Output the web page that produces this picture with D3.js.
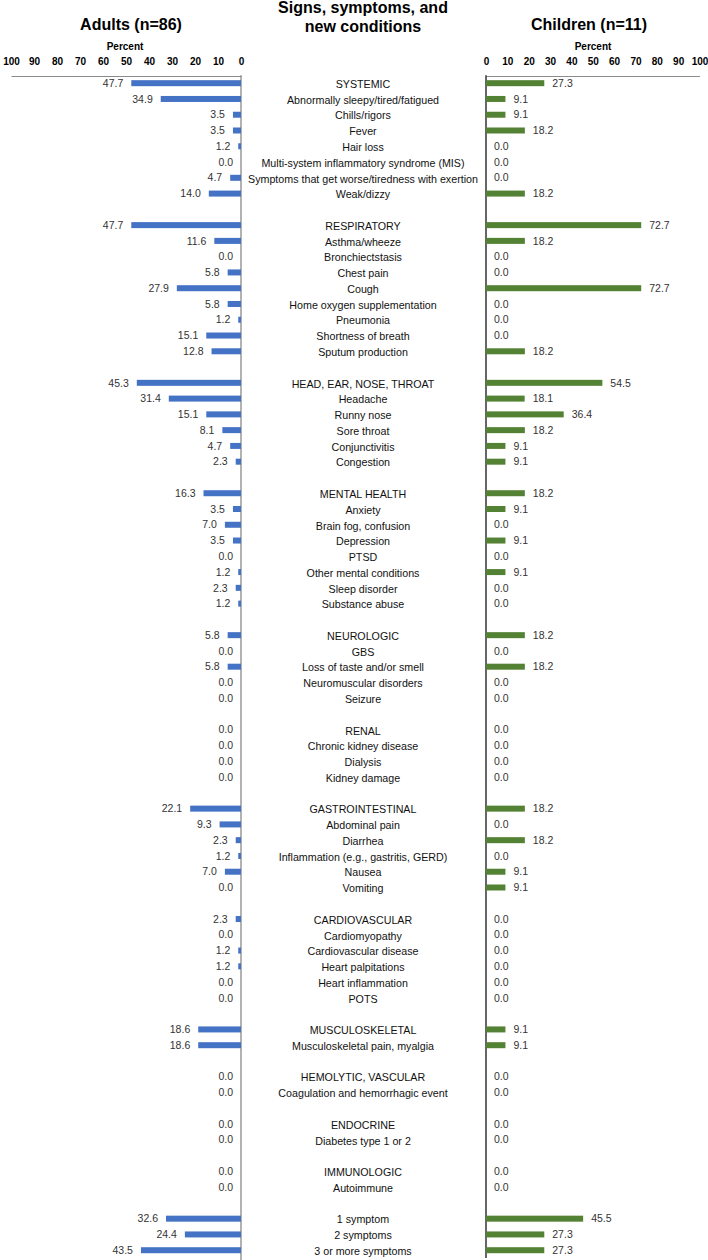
<!DOCTYPE html>
<html>
<head>
<meta charset="utf-8">
<script src="https://cdn.jsdelivr.net/npm/d3@7"></script>
<style>
  body { margin: 0; background: #fff; }
  text { font-family: "Liberation Sans", Arial, sans-serif; }
</style>
</head>
<body>
<div id="chart"></div>
<script>
// rows, "" = spacer row between groups
var labels = [
  "SYSTEMIC", "Abnormally sleepy/tired/fatigued", "Chills/rigors", "Fever", "Hair loss",
  "Multi-system inflammatory syndrome (MIS)", "Symptoms that get worse/tiredness with exertion", "Weak/dizzy",
  "",
  "RESPIRATORY", "Asthma/wheeze", "Bronchiectstasis", "Chest pain", "Cough",
  "Home oxygen supplementation", "Pneumonia", "Shortness of breath", "Sputum production",
  "",
  "HEAD, EAR, NOSE, THROAT", "Headache", "Runny nose", "Sore throat", "Conjunctivitis", "Congestion",
  "",
  "MENTAL HEALTH", "Anxiety", "Brain fog, confusion", "Depression", "PTSD",
  "Other mental conditions", "Sleep disorder", "Substance abuse",
  "",
  "NEUROLOGIC", "GBS", "Loss of taste and/or smell", "Neuromuscular disorders", "Seizure",
  "",
  "RENAL", "Chronic kidney disease", "Dialysis", "Kidney damage",
  "",
  "GASTROINTESTINAL", "Abdominal pain", "Diarrhea", "Inflammation (e.g., gastritis, GERD)", "Nausea", "Vomiting",
  "",
  "CARDIOVASCULAR", "Cardiomyopathy", "Cardiovascular disease", "Heart palpitations", "Heart inflammation", "POTS",
  "",
  "MUSCULOSKELETAL", "Musculoskeletal pain, myalgia",
  "",
  "HEMOLYTIC, VASCULAR", "Coagulation and hemorrhagic event",
  "",
  "ENDOCRINE", "Diabetes type 1 or 2",
  "",
  "IMMUNOLOGIC", "Autoimmune",
  "",
  "1 symptom", "2 symptoms", "3 or more symptoms"
];

var adults = [
  47.7, 34.9, 3.5, 3.5, 1.2, 0.0, 4.7, 14.0,
  null,
  47.7, 11.6, 0.0, 5.8, 27.9, 5.8, 1.2, 15.1, 12.8,
  null,
  45.3, 31.4, 15.1, 8.1, 4.7, 2.3,
  null,
  16.3, 3.5, 7.0, 3.5, 0.0, 1.2, 2.3, 1.2,
  null,
  5.8, 0.0, 5.8, 0.0, 0.0,
  null,
  0.0, 0.0, 0.0, 0.0,
  null,
  22.1, 9.3, 2.3, 1.2, 7.0, 0.0,
  null,
  2.3, 0.0, 1.2, 1.2, 0.0, 0.0,
  null,
  18.6, 18.6,
  null,
  0.0, 0.0,
  null,
  0.0, 0.0,
  null,
  0.0, 0.0,
  null,
  32.6, 24.4, 43.5
];

var children = [
  27.3, 9.1, 9.1, 18.2, 0.0, 0.0, 0.0, 18.2,
  null,
  72.7, 18.2, 0.0, 0.0, 72.7, 0.0, 0.0, 0.0, 18.2,
  null,
  54.5, 18.1, 36.4, 18.2, 9.1, 9.1,
  null,
  18.2, 9.1, 0.0, 9.1, 0.0, 9.1, 0.0, 0.0,
  null,
  18.2, 0.0, 18.2, 0.0, 0.0,
  null,
  0.0, 0.0, 0.0, 0.0,
  null,
  18.2, 0.0, 18.2, 0.0, 9.1, 9.1,
  null,
  0.0, 0.0, 0.0, 0.0, 0.0, 0.0,
  null,
  9.1, 9.1,
  null,
  0.0, 0.0,
  null,
  0.0, 0.0,
  null,
  0.0, 0.0,
  null,
  45.5, 27.3, 27.3
];

var ticks = [0, 10, 20, 30, 40, 50, 60, 70, 80, 90, 100];

const width = 708;
const height = 1260;
const barH = 6;

const svg = d3
  .select("#chart")
  .append("svg")
  .attr("width", width)
  .attr("height", height);

const y = d3.scaleBand().domain(d3.range(labels.length)).range([75.3, 1258.1]);
const xL = d3.scaleLinear().domain([0, 100]).range([241, 11]);
const xR = d3.scaleLinear().domain([0, 100]).range([486, 699.5]);

// titles
svg.append("text").attr("x", 131).attr("y", 30).attr("text-anchor", "middle")
  .style("font-size", "16px").style("font-weight", "bold").text("Adults (n=86)");
svg.append("text").attr("x", 589).attr("y", 30).attr("text-anchor", "middle")
  .style("font-size", "16px").style("font-weight", "bold").text("Children (n=11)");
svg.append("text").attr("x", 363).attr("y", 13).attr("text-anchor", "middle")
  .style("font-size", "16px").style("font-weight", "bold").text("Signs, symptoms, and");
svg.append("text").attr("x", 363).attr("y", 32).attr("text-anchor", "middle")
  .style("font-size", "16px").style("font-weight", "bold").text("new conditions");

svg.append("text").attr("x", 125).attr("y", 50).attr("text-anchor", "middle")
  .style("font-size", "10px").style("font-weight", "bold").text("Percent");
svg.append("text").attr("x", 593).attr("y", 50).attr("text-anchor", "middle")
  .style("font-size", "10px").style("font-weight", "bold").text("Percent");

// top axes
function topAxis(scale, color) {
  const g = svg
    .append("g")
    .attr("transform", "translate(0,76)")
    .call(d3.axisTop(scale).tickValues(ticks).tickSize(0).tickPadding(11));
  g.select(".domain").attr("stroke", color);
  g.selectAll("text")
    .attr("fill", "#000")
    .style("font-size", "10px")
    .style("font-weight", "bold")
    .style("font-family", "'Liberation Sans', Arial, sans-serif");
}
topAxis(xL, "#8c8c8c");
topAxis(xR, "#8c8c8c");

// vertical baselines
svg.append("line")
  .attr("x1", xL(0)).attr("x2", xL(0))
  .attr("y1", y.range()[0]).attr("y2", y.range()[1] + 2)
  .attr("stroke", "#7f7f7f").attr("stroke-width", 1.2);
svg.append("line")
  .attr("x1", xR(0)).attr("x2", xR(0))
  .attr("y1", y.range()[0]).attr("y2", y.range()[1])
  .attr("stroke", "#000").attr("stroke-width", 1.2);

var rows = labels.map(function (d, i) {
  return { i: i, label: d, a: adults[i], c: children[i] };
});
var filled = rows.filter(function (d) { return d.a !== null; });

// adult bars
svg.selectAll(".barL")
  .data(filled)
  .enter()
  .append("rect")
  .attr("class", "barL")
  .attr("x", function (d) { return xL(d.a); })
  .attr("y", function (d) { return y(d.i) + (y.bandwidth() - barH) / 2; })
  .attr("width", function (d) { return xL(0) - xL(d.a); })
  .attr("height", barH)
  .attr("fill", "#4472c4");

svg.selectAll(".valL")
  .data(filled)
  .enter()
  .append("text")
  .attr("class", "valL")
  .attr("x", function (d) { return xL(d.a) - 8; })
  .attr("y", function (d) { return y(d.i) + y.bandwidth() / 2; })
  .attr("dy", "0.35em")
  .attr("text-anchor", "end")
  .style("font-size", "10.5px")
  .attr("fill", "#333")
  .text(function (d) { return d.a.toFixed(1); });

// children bars
svg.selectAll(".barR")
  .data(filled)
  .enter()
  .append("rect")
  .attr("class", "barR")
  .attr("x", xR(0))
  .attr("y", function (d) { return y(d.i) + (y.bandwidth() - barH) / 2; })
  .attr("width", function (d) { return xR(d.c) - xR(0); })
  .attr("height", barH)
  .attr("fill", "#548235");

svg.selectAll(".valR")
  .data(filled)
  .enter()
  .append("text")
  .attr("class", "valR")
  .attr("x", function (d) { return xR(d.c) + 8; })
  .attr("y", function (d) { return y(d.i) + y.bandwidth() / 2; })
  .attr("dy", "0.35em")
  .style("font-size", "10.5px")
  .attr("fill", "#333")
  .text(function (d) { return d.c.toFixed(1); });

// center labels
svg.selectAll(".lab")
  .data(filled)
  .enter()
  .append("text")
  .attr("class", "lab")
  .attr("x", 363)
  .attr("y", function (d) { return y(d.i) + y.bandwidth() / 2 + 1; })
  .attr("dy", "0.35em")
  .attr("text-anchor", "middle")
  .style("font-size", "10.7px")
  .attr("fill", "#111")
  .text(function (d) { return d.label; });
</script>
</body>
</html>
